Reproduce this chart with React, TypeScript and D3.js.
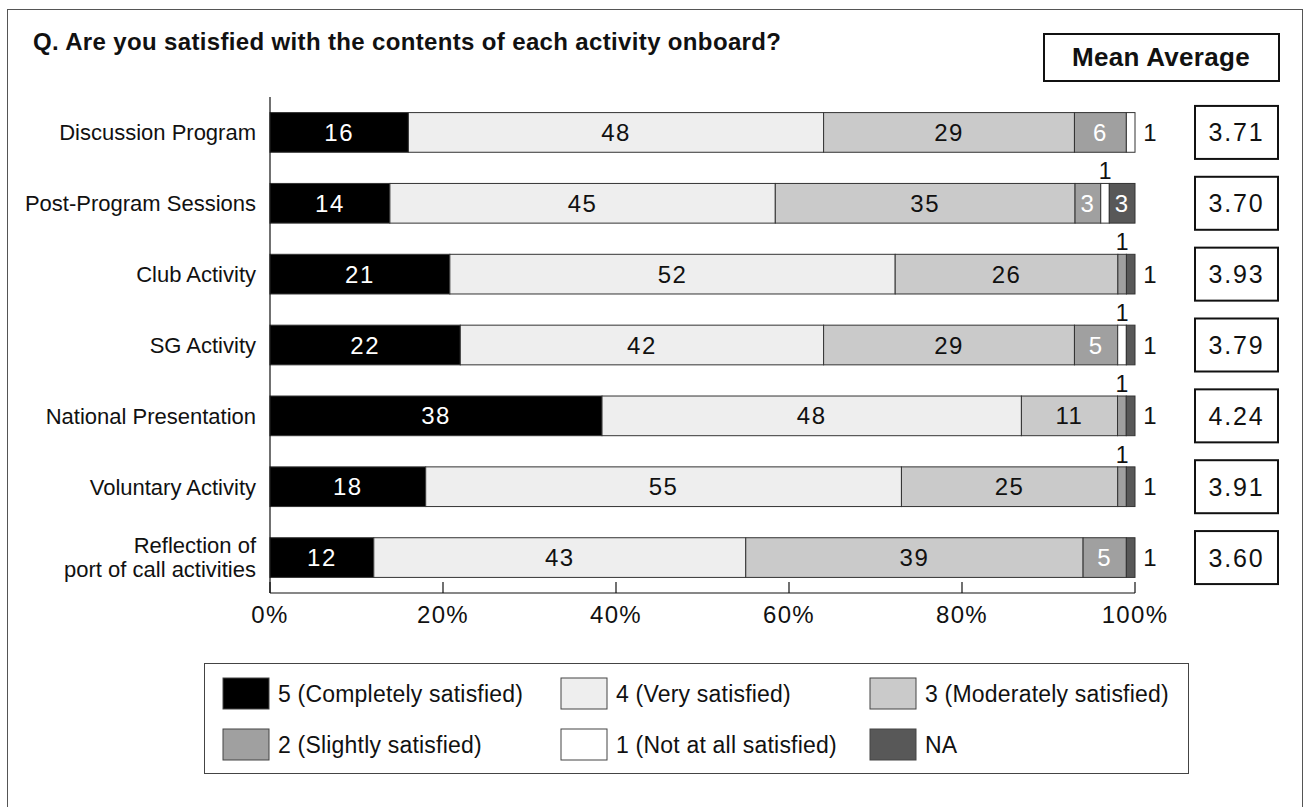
import React from "react";
import * as d3 from "d3";

// Activities surveyed (top to bottom)
const categories = [
  "Discussion Program",
  "Post-Program Sessions",
  "Club Activity",
  "SG Activity",
  "National Presentation",
  "Voluntary Activity",
  "Reflection of\nport of call activities",
];

// Share of respondents (%) per rating
const rating5 = [16, 14, 21, 22, 38, 18, 12];
const rating4 = [48, 45, 52, 42, 48, 55, 43];
const rating3 = [29, 35, 26, 29, 11, 25, 39];
const rating2 = [6, 3, 1, 5, 1, 1, 5];
const rating1 = [1, 1, 0, 1, 0, 0, 0];
const ratingNA = [0, 3, 1, 1, 1, 1, 1];

const meanAverages = ["3.71", "3.70", "3.93", "3.79", "4.24", "3.91", "3.60"];

const xTicks = [0, 0.2, 0.4, 0.6, 0.8, 1];

const seriesKeys = ["r5", "r4", "r3", "r2", "r1", "na"];
const seriesLabels = [
  "5 (Completely satisfied)",
  "4 (Very satisfied)",
  "3 (Moderately satisfied)",
  "2 (Slightly satisfied)",
  "1 (Not at all satisfied)",
  "NA",
];
const seriesFill = ["#000000", "#eeeeee", "#cacaca", "#a0a0a0", "#ffffff", "#585858"];
const seriesText = ["#ffffff", "#111111", "#111111", "#ffffff", "#111111", "#ffffff"];

const FONT = "'Liberation Sans', Arial, Helvetica, sans-serif";

export default function App() {
  const rows = categories.map((c, i) => ({
    cat: c,
    r5: rating5[i],
    r4: rating4[i],
    r3: rating3[i],
    r2: rating2[i],
    r1: rating1[i],
    na: ratingNA[i],
  }));

  const stacked = d3
    .stack<any>()
    .keys(seriesKeys)
    .offset(d3.stackOffsetExpand)(rows);

  const x = d3.scaleLinear().domain([0, 1]).range([270, 1135]);
  const y = d3
    .scaleBand<string>()
    .domain(categories)
    .range([97, 593])
    .paddingInner(0.44)
    .paddingOuter(0.22);
  const bw = y.bandwidth();

  const lastKey = (row: any) => {
    let k = "";
    seriesKeys.forEach((key) => {
      if (row[key] > 0) k = key;
    });
    return k;
  };

  const legendCols = [223, 561, 870];
  const legendRows = [678, 729];

  return (
    <svg
      width={1308}
      height={807}
      style={{ position: "absolute", left: 0, top: 0, background: "#fff" }}
      fontFamily={FONT}
    >
      {/* outer frame */}
      <rect x={7.5} y={9.5} width={1295} height={820} fill="none" stroke="#555" strokeWidth={1} />

      {/* title */}
      <text x={33} y={50} fontSize={24} letterSpacing={0.35} fontWeight="bold" fill="#111">
        Q.  Are you satisfied with the contents of each activity onboard?
      </text>

      {/* mean average header */}
      <rect x={1044} y={34} width={235} height={47} fill="#fff" stroke="#111" strokeWidth={2} />
      <text x={1161} y={66} fontSize={26} letterSpacing={0.3} fontWeight="bold" textAnchor="middle" fill="#111">
        Mean Average
      </text>

      {/* bars */}
      {stacked.map((layer, si) => (
        <g key={layer.key}>
          {layer.map((d, ri) => {
            const v = (rows[ri] as any)[layer.key];
            if (v <= 0) return null;
            return (
              <rect
                key={ri}
                x={x(d[0])}
                y={y(categories[ri])!}
                width={x(d[1]) - x(d[0])}
                height={bw}
                fill={seriesFill[si]}
                stroke="#333"
                strokeWidth={1}
              />
            );
          })}
        </g>
      ))}

      {/* segment value labels */}
      {stacked.map((layer, si) => (
        <g key={"lab" + layer.key}>
          {layer.map((d, ri) => {
            const row = rows[ri] as any;
            const v = row[layer.key];
            if (v <= 0) return null;
            const top = y(categories[ri])!;
            const cy = top + bw / 2;
            if (v >= 3) {
              return (
                <text
                  key={ri}
                  x={(x(d[0]) + x(d[1])) / 2}
                  y={cy}
                  dy="0.36em"
                  fontSize={24}
                  letterSpacing={1.5}
                  textAnchor="middle"
                  fill={seriesText[si]}
                >
                  {v}
                </text>
              );
            }
            if (lastKey(row) === layer.key) {
              return (
                <text key={ri} x={1150} y={cy} dy="0.36em" fontSize={24} textAnchor="middle" fill="#111">
                  {v}
                </text>
              );
            }
            return (
              <text
                key={ri}
                x={(x(d[0]) + x(d[1])) / 2}
                y={top - 4}
                fontSize={23}
                textAnchor="middle"
                fill="#111"
              >
                {v}
              </text>
            );
          })}
        </g>
      ))}

      {/* category labels */}
      {categories.map((c) => {
        const lines = c.split("\n");
        const cy = y(c)! + bw / 2;
        const lh = 24;
        return (
          <text key={c} x={256} y={cy} fontSize={22} textAnchor="end" fill="#111">
            {lines.map((ln, i) => (
              <tspan key={i} x={256} dy={i === 0 ? `${0.36 * 22 - ((lines.length - 1) * lh) / 2}` : lh}>
                {ln}
              </tspan>
            ))}
          </text>
        );
      })}

      {/* axes */}
      <line x1={270} x2={270} y1={97} y2={593} stroke="#111" strokeWidth={1.2} />
      <line x1={270} x2={1135} y1={593} y2={593} stroke="#111" strokeWidth={1.2} />
      {xTicks.map((t) => (
        <g key={t}>
          <line x1={x(t)} x2={x(t)} y1={582} y2={593} stroke="#111" strokeWidth={1.2} />
          <text x={x(t)} y={623} fontSize={24} letterSpacing={1.3} textAnchor="middle" fill="#111">
            {d3.format(".0%")(t)}
          </text>
        </g>
      ))}

      {/* mean value boxes */}
      {categories.map((c, i) => {
        const cy = y(c)! + bw / 2;
        return (
          <g key={"m" + i}>
            <rect x={1195} y={cy - 26.5} width={83} height={53} fill="#fff" stroke="#111" strokeWidth={2} />
            <text x={1236.5} y={cy} dy="0.36em" fontSize={25} letterSpacing={1.8} textAnchor="middle" fill="#111">
              {meanAverages[i]}
            </text>
          </g>
        );
      })}

      {/* legend */}
      <rect x={204.5} y={663.5} width={984} height={110} fill="#fff" stroke="#444" strokeWidth={1} />
      {seriesLabels.map((lab, i) => {
        const col = i % 3;
        const row = Math.floor(i / 3);
        const sx = legendCols[col];
        const sy = legendRows[row];
        return (
          <g key={lab}>
            <rect x={sx} y={sy} width={46} height={31} fill={seriesFill[i]} stroke="#444" strokeWidth={1} />
            <text x={sx + 55} y={sy + 15.5} dy="0.36em" fontSize={23} letterSpacing={0.2} fill="#111">
              {lab}
            </text>
          </g>
        );
      })}
    </svg>
  );
}
